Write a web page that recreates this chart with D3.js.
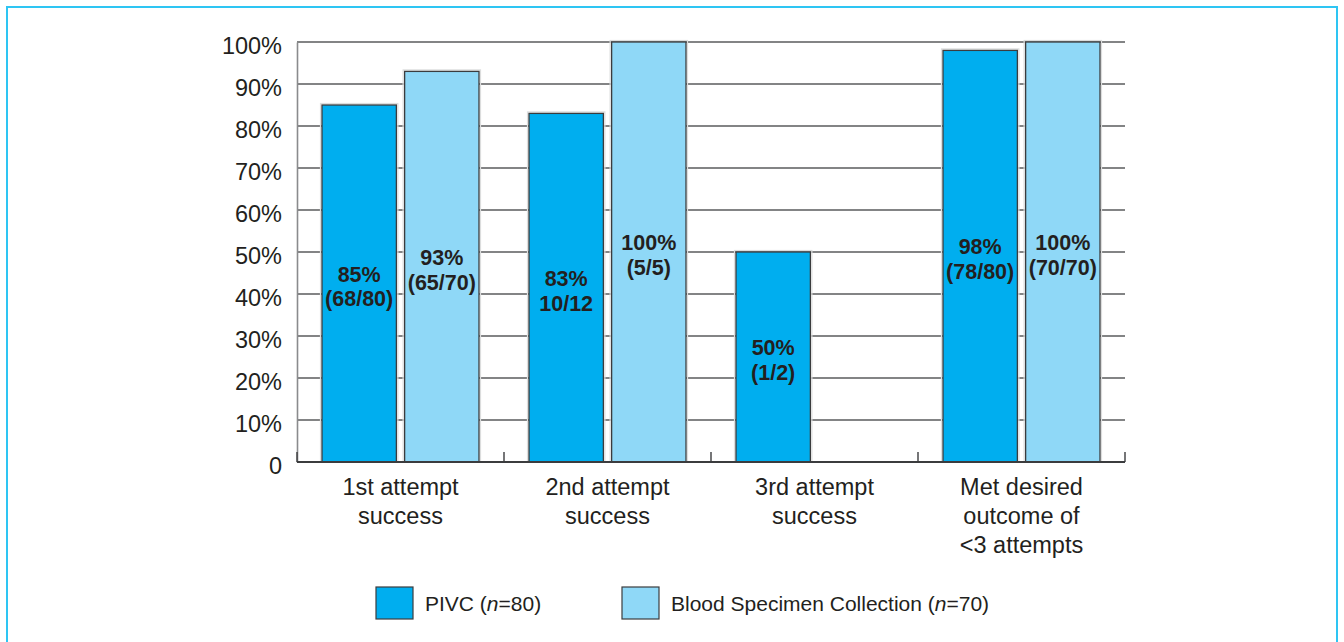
<!DOCTYPE html>
<html>
<head>
<meta charset="utf-8">
<script src="https://cdn.jsdelivr.net/npm/d3@7"></script>
<style>
  html, body { margin: 0; padding: 0; background: #fff; }
  svg { display: block; font-family: "Liberation Sans", Arial, Helvetica, sans-serif; }
</style>
</head>
<body>
<div id="chart"></div>
<script>
'use strict'

// data
const categories = [
    ['1st attempt', 'success'],
    ['2nd attempt', 'success'],
    ['3rd attempt', 'success'],
    ['Met desired', 'outcome of', '<3 attempts']
]
const series = ['PIVC', 'Blood Specimen Collection']
const seriesN = [80, 70]
const pivcValues = [85, 83, 50, 98]
const bscValues = [93, 100, 0, 100]
const pivcLabels = [['85%', '(68/80)'], ['83%', '10/12'], ['50%', '(1/2)'], ['98%', '(78/80)']]
const bscLabels = [['93%', '(65/70)'], ['100%', '(5/5)'], [], ['100%', '(70/70)']]
const yTicks = [0, 10, 20, 30, 40, 50, 60, 70, 80, 90, 100]

const colors = ['#00aeef', '#8fd8f7']
const gridColor = '#5a5b5d'
const inkColor = '#231f20'

const svgWidth = 1344, svgHeight = 642
const margin = {left: 297, right: 219, top: 42, bottom: 180}

const svg = d3.select('#chart')
    .append('svg')
    .attr('width', svgWidth)
    .attr('height', svgHeight)

// frame round the figure
svg.append('rect')
    .attr('x', 7).attr('y', 7)
    .attr('width', svgWidth - 14)
    .attr('height', svgHeight + 20)
    .attr('fill', 'none')
    .attr('stroke', '#2ec5f3')
    .attr('stroke-width', 2)

const x = d3.scaleBand()
    .domain(d3.range(categories.length))
    .range([margin.left, svgWidth - margin.right])

const xSub = d3.scaleBand()
    .domain(series)
    .range([25, x.bandwidth() - 25])
    .paddingInner(0.1)

const y = d3.scaleLinear()
    .domain([0, 100])
    .range([svgHeight - margin.bottom, margin.top])

// gridlines
svg.append('g')
    .selectAll('line')
    .data(yTicks.filter(d => d > 0))
    .join('line')
    .attr('x1', margin.left)
    .attr('x2', svgWidth - margin.right)
    .attr('y1', d => y(d))
    .attr('y2', d => y(d))
    .attr('stroke', gridColor)
    .attr('stroke-width', 1.4)

// left axis
const yAxis = svg.append('g')
    .attr('transform', `translate(${margin.left},0)`)
    .call(d3.axisLeft(y).tickValues(yTicks).tickSize(0).tickPadding(15)
        .tickFormat(d => d === 0 ? '0' : d + '%'))
yAxis.select('.domain').attr('stroke', '#8a8b8d').attr('stroke-width', 1.6)
yAxis.selectAll('text')
    .attr('font-size', 23.5)
    .attr('fill', inkColor)
    .attr('font-family', '"Liberation Sans", Arial, sans-serif')
    .attr('dy', '0.5em')

// bars
const rows = []
categories.forEach((c, i) => {
    rows.push({cat: i, s: series[0], v: pivcValues[i], label: pivcLabels[i], color: colors[0]})
    rows.push({cat: i, s: series[1], v: bscValues[i], label: bscLabels[i], color: colors[1]})
})

const bars = svg.append('g')
    .selectAll('g')
    .data(rows.filter(d => d.v > 0))
    .join('g')
    .attr('transform', d => `translate(${x(d.cat) + xSub(d.s)},0)`)

// faint halo like the print
bars.append('rect')
    .attr('x', -1.5)
    .attr('y', d => y(d.v) - 1.5)
    .attr('width', xSub.bandwidth() + 3)
    .attr('height', d => y(0) - y(d.v) + 1.5)
    .attr('fill', 'none')
    .attr('stroke', '#dcdddd')
    .attr('stroke-width', 1.2)

bars.append('rect')
    .attr('x', 0)
    .attr('y', d => y(d.v))
    .attr('width', xSub.bandwidth())
    .attr('height', d => y(0) - y(d.v))
    .attr('fill', d => d.color)
    .attr('stroke', '#3b3c3e')
    .attr('stroke-width', 1.3)

bars.append('text')
    .attr('x', xSub.bandwidth() / 2)
    .attr('y', d => y(d.v / 2) + 3)
    .attr('text-anchor', 'middle')
    .attr('font-size', 21.5)
    .attr('font-weight', 'bold')
    .attr('fill', inkColor)
    .selectAll('tspan')
    .data(d => d.label)
    .join('tspan')
    .attr('x', xSub.bandwidth() / 2)
    .attr('dy', (d, i) => i === 0 ? '-0.22em' : '1.15em')
    .text(d => d)

// bottom axis with upward ticks at group edges
svg.append('line')
    .attr('x1', margin.left)
    .attr('x2', svgWidth - margin.right)
    .attr('y1', y(0))
    .attr('y2', y(0))
    .attr('stroke', '#3b3c3e')
    .attr('stroke-width', 2)

svg.append('g')
    .selectAll('line')
    .data(d3.range(categories.length + 1))
    .join('line')
    .attr('x1', i => margin.left + i * x.step())
    .attr('x2', i => margin.left + i * x.step())
    .attr('y1', y(0))
    .attr('y2', y(0) - 10)
    .attr('stroke', '#3b3c3e')
    .attr('stroke-width', 1.4)

// category labels
svg.append('g')
    .selectAll('text')
    .data(categories)
    .join('text')
    .attr('x', (d, i) => x(i) + x.bandwidth() / 2)
    .attr('y', y(0) + 33)
    .attr('text-anchor', 'middle')
    .attr('font-size', 23.5)
    .attr('fill', inkColor)
    .selectAll('tspan')
    .data(d => d)
    .join('tspan')
    .attr('x', function () { return this.parentNode.getAttribute('x') })
    .attr('dy', (d, i) => i === 0 ? 0 : 29)
    .text(d => d)

// legend
const legendX = [376, 622]
const legend = svg.append('g')
    .selectAll('g')
    .data(series)
    .join('g')
    .attr('transform', (d, i) => `translate(${legendX[i]},587)`)

legend.append('rect')
    .attr('width', 37)
    .attr('height', 32)
    .attr('fill', (d, i) => colors[i])
    .attr('stroke', '#3b3c3e')
    .attr('stroke-width', 1.2)

const legendText = legend.append('text')
    .attr('x', 49)
    .attr('y', 24)
    .attr('font-size', 21)
    .attr('fill', inkColor)
legendText.append('tspan').text(d => d + ' (')
legendText.append('tspan').attr('font-style', 'italic').text('n')
legendText.append('tspan').text((d, i) => '=' + seriesN[i] + ')')
</script>
</body>
</html>
